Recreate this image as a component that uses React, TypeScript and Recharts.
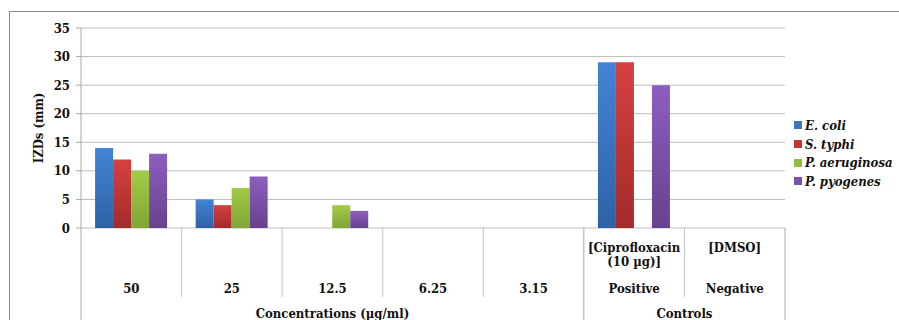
import React from 'react';
import { BarChart, Bar, XAxis, YAxis, CartesianGrid } from 'recharts';

const categories = ['50', '25', '12.5', '6.25', '3.15', 'Positive', 'Negative'];
const upperLabels = [[], [], [], [], [], ['[Ciprofloxacin', '(10 µg)]'], ['[DMSO]']];
const groupNames = ['Concentrations (µg/ml)', 'Controls'];
const groupSpans = [5, 2];

const eColi = [14, 5, 0, 0, 0, 29, 0];
const sTyphi = [12, 4, 0, 0, 0, 29, 0];
const pAeruginosa = [10, 7, 4, 0, 0, 0, 0];
const pPyogenes = [13, 9, 3, 0, 0, 25, 0];

const yTicks = [0, 5, 10, 15, 20, 25, 30, 35];

const series = [
  { key: 'eColi', name: 'E. coli', top: '#4284D6', bottom: '#2E62A6', swatch: '#3B76C4' },
  { key: 'sTyphi', name: 'S. typhi', top: '#D64040', bottom: '#A32B2B', swatch: '#C53535' },
  { key: 'pAeruginosa', name: 'P. aeruginosa', top: '#A2CC45', bottom: '#7FA636', swatch: '#92BE3E' },
  { key: 'pPyogenes', name: 'P. pyogenes', top: '#8C5EBE', bottom: '#66428E', swatch: '#7A50AA' },
];

const data = categories.map((c, i) => ({
  category: c,
  eColi: eColi[i],
  sTyphi: sTyphi[i],
  pAeruginosa: pAeruginosa[i],
  pPyogenes: pPyogenes[i],
}));

const FONT = '"DejaVu Serif Condensed", "DejaVu Serif", serif';
const FS = 13;
const W = 899;
const H = 320;
const margin = { top: 28, right: 114, bottom: 0, left: 31 };
const X_AXIS_H = 92;
const PLOT_LEFT = 81;
const PLOT_BOTTOM = H - X_AXIS_H;
const BAND = (W - PLOT_LEFT - margin.right) / categories.length;
const DIVIDER = '#C4C4C4';

// multi-level category axis: labels, dividers and group names
const CategoryTick = (props: any) => {
  const { x, payload } = props;
  const index = payload.index;
  const left = x - BAND / 2;
  const right = x + BAND / 2;
  let acc = 0;
  const groupStarts: number[] = [];
  groupSpans.forEach((s) => { groupStarts.push(acc); acc += s; });
  const isGroupStart = groupStarts.includes(index);
  const isLast = index === categories.length - 1;
  let g = 0;
  while (g + 1 < groupStarts.length && index >= groupStarts[g + 1]) g++;
  const gCenter = PLOT_LEFT + (groupStarts[g] + groupSpans[g] / 2) * BAND;
  const showGroup = index === groupStarts[g];
  return (
    <g>
      <line x1={left} x2={left} y1={PLOT_BOTTOM} y2={isGroupStart ? H : 297} stroke={isGroupStart ? '#A8A8A8' : DIVIDER} />
      {isLast && <line x1={right} x2={right} y1={PLOT_BOTTOM} y2={H} stroke="#A8A8A8" />}
      {upperLabels[index].map((t, i) => (
        <text key={t} x={x} y={252 + i * 14} textAnchor="middle" fontFamily={FONT} fontWeight="bold" fontSize={FS} fill="#111">
          {t}
        </text>
      ))}
      <text x={x} y={293} textAnchor="middle" fontFamily={FONT} fontWeight="bold" fontSize={FS} fill="#111">
        {payload.value}
      </text>
      {showGroup && (
        <text x={gCenter} y={318} textAnchor="middle" fontFamily={FONT} fontWeight="bold" fontSize={FS} fill="#111">
          {groupNames[g]}
        </text>
      )}
    </g>
  );
};

export default function App() {
  return (
    <div style={{ position: 'absolute', left: 0, top: 0, width: W, height: H, background: '#fff', overflow: 'hidden' }}>
      <div style={{ position: 'absolute', left: 9, top: 11, width: W, height: H, borderLeft: '1px solid #8A8A8A', borderTop: '1px solid #8A8A8A' }} />
      <BarChart width={W} height={H} data={data} margin={margin} barCategoryGap="14%" barGap={0}>
        <defs>
          {series.map((s) => (
            <linearGradient key={s.key} id={`grad-${s.key}`} x1="0" y1="0" x2="0" y2="1">
              <stop offset="0%" stopColor={s.top} />
              <stop offset="100%" stopColor={s.bottom} />
            </linearGradient>
          ))}
        </defs>
        <CartesianGrid vertical={false} stroke="#BDBDBD" />
        <XAxis dataKey="category" axisLine={false} tickLine={false} tick={<CategoryTick />} interval={0} height={X_AXIS_H} />
        <YAxis
          domain={[0, 35]}
          ticks={yTicks}
          interval={0}
          width={50}
          axisLine={{ stroke: '#A8A8A8' }}
          tickLine={{ stroke: '#A8A8A8' }}
          tickSize={5}
          tickMargin={6}
          tick={{ fontFamily: FONT, fontWeight: 'bold', fontSize: FS, fill: '#111' }}
          label={{ value: 'IZDs (mm)', angle: -90, position: 'insideLeft', offset: 0, dx: 7, style: { fontFamily: FONT, fontWeight: 'bold', fontSize: FS, fill: '#111', textAnchor: 'middle' } }}
        />
        {series.map((s) => (
          <Bar key={s.key} dataKey={s.key} name={s.name} fill={`url(#grad-${s.key})`} isAnimationActive={false} />
        ))}
      </BarChart>
      <div style={{ position: 'absolute', left: 794, top: 116, fontFamily: FONT, fontWeight: 'bold', fontStyle: 'italic', fontSize: FS, color: '#111' }}>
        {series.map((s) => (
          <div key={s.key} style={{ display: 'flex', alignItems: 'center', height: 18.7, whiteSpace: 'nowrap' }}>
            <span style={{ display: 'inline-block', width: 8, height: 8, background: s.swatch, marginRight: 3 }} />
            {s.name}
          </div>
        ))}
      </div>
    </div>
  );
}
